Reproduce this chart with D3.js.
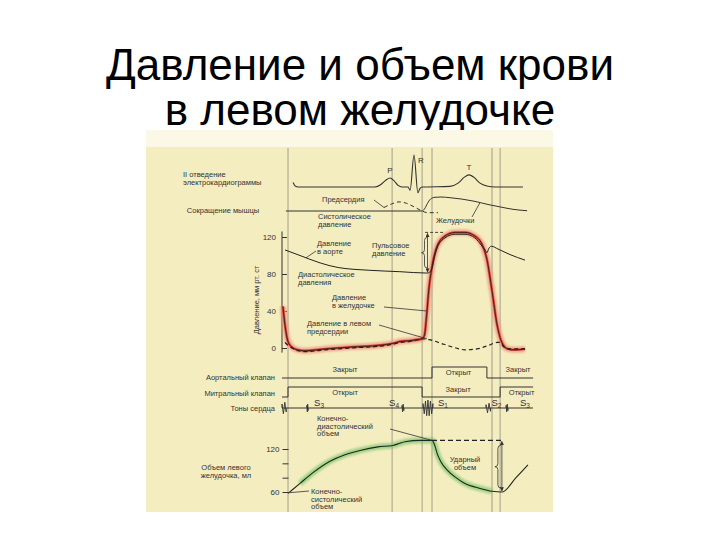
<!DOCTYPE html>
<html>
<head>
<meta charset="utf-8">
<script src="https://cdn.jsdelivr.net/npm/d3@7"></script>
<style>
  body { margin: 0; background: #fff; }
  text { font-family: "Liberation Sans", Arial, sans-serif; fill: #333; }
</style>
</head>
<body>
<script>
// ---- data (time in ms, one cardiac cycle) ----
const titleLines = ["Давление и объем крови", "в левом желудочке"];
const eventTimes = [0, 347, 447, 480, 680, 707];

// ECG lead II, mV-ish units
const ecg = [[17,0.14],[24,0.03],[34,0],[290,0],[310,0.08],[327,0.22],[340,0.28],[353,0.2],[367,0.05],[380,0],
  [400,0],[407,-0.1],[420,1.0],[433,-0.18],[440,-0.04],[447,0],[540,0.02],[567,0.12],[587,0.3],[603,0.38],
  [620,0.3],[640,0.12],[663,0.03],[690,0],[783,0]];

// muscle contraction (relative)
const atrialContraction = [[320,0.25],[345,0.5],[370,0.65],[395,0.55],[420,0.3],[447,0],[465,-0.12],[500,-0.12]];
const ventricularContraction = [[-7,0],[447,0],[455,0.15],[465,0.55],[475,0.85],[490,0.98],[510,1.0],[540,0.95],
  [580,0.85],[620,0.7],[670,0.45],[710,0.28],[750,0.12],[797,0.02]];

// pressures, mm Hg
const pressureTicks = [0, 40, 80, 120];
const lvPressure = [[-17,45],[-12,30],[-6,16],[0,7],[13,1],[33,-2],[60,-3],[107,-1.5],[207,1],[307,3],[350,5],
  [373,7],[407,8],[447,10],[455,14],[462,35],[470,65],[480,88],[497,110],[523,121],[557,125],[590,125],[623,121],
  [647,112],[663,96],[680,62],[697,25],[713,6],[733,-1],[757,-2],[790,-1]];
const aorticPressure = [[-10,106],[40,100],[107,92],[167,87],[273,84],[373,82.5],[463,81],[472,82],[480,86],
  [488,98],[497,108],[523,119],[557,123],[590,123],[623,119],[647,110],[657,106],[663,103],[670,108],[678,110],
  [700,107],[740,101],[790,95]];
const laPressure = [[-10,6],[0,3],[13,0],[33,-3],[60,-4],[107,-2.5],[207,0],[307,2],[350,4],[373,6],[407,7],
  [447,10],[470,9],[520,4],[560,0],[590,-2],[630,-1],[670,3],[697,6],[707,6],[717,2],[733,-1],[790,-1]];

// valves
const aorticValve = [{from:-20,to:480,open:false},{from:480,to:663,open:true},{from:663,to:817,open:false}];
const mitralValve = [{from:-20,to:0,open:false},{from:0,to:447,open:true},{from:447,to:707,open:false},{from:707,to:817,open:true}];
const valveWords = {open: "Открыт", closed: "Закрыт"};

// heart sounds
const heartSounds = [
  {name:"",   sub:"",  t:-20, dur:14, amp:6},
  {name:"S",  sub:"3", t:63,  dur:4,  amp:4},
  {name:"S",  sub:"4", t:380, dur:6,  amp:4},
  {name:"S",  sub:"1", t:450, dur:33, amp:8},
  {name:"S",  sub:"2", t:660, dur:15, amp:5},
  {name:"S",  sub:"3", t:727, dur:6,  amp:4}
];

// volume, ml
const volumeTicks = [60, 80, 100, 120];
const volumeLabels = [60, 120];
const lvVolume = [[0,58],[40,72],[80,86],[140,103],[190,112],[240,118],[300,123],[350,125],[373,128],[390,130],
  [440,132],[480,132],[490,124],[497,114],[510,102],[530,91],[560,80],[585,73],[640,65],[680,61],[713,60],
  [760,80],[800,98]];

// ---- layout ----
const svg = d3.select("body").append("svg").attr("width", 720).attr("height", 540);

const defs = svg.append("defs");
defs.append("filter").attr("id", "soft").append("feGaussianBlur").attr("stdDeviation", 1.1);
defs.append("marker").attr("id", "arr").attr("viewBox", "0 0 6 6").attr("refX", 5.5).attr("refY", 3)
  .attr("markerWidth", 5).attr("markerHeight", 5).attr("orient", "auto-start-reverse")
  .append("path").attr("d", "M0,0 L6,3 L0,6 Z").attr("fill", "#333");

svg.selectAll(".title").data(titleLines).enter().append("text")
  .attr("x", 360).attr("y", (d, i) => 80 + i * 45)
  .attr("text-anchor", "middle").style("font-size", "44px").style("fill", "#000")
  .text(d => d);

// scanned page background
svg.append("rect").attr("x", 146).attr("y", 130).attr("width", 407).attr("height", 382).attr("fill", "#f4edc0");
svg.append("rect").attr("x", 146).attr("y", 130).attr("width", 407).attr("height", 17).attr("fill", "#fbf8e6");

const x = d3.scaleLinear().domain([0, 800]).range([288, 528]);
const yEcg = d3.scaleLinear().domain([0, 1]).range([187, 155]);
const yMus = d3.scaleLinear().domain([0, 1]).range([211, 197]);
const yP = d3.scaleLinear().domain([0, 120]).range([348, 237]);
const yV = d3.scaleLinear().domain([60, 120]).range([492, 449]);

const lineOf = ys => d3.line().x(d => x(d[0])).y(d => ys(d[1])).curve(d3.curveMonotoneX);

// event lines
svg.append("g").selectAll("line").data(eventTimes).enter().append("line")
  .attr("x1", d => x(d)).attr("x2", d => x(d)).attr("y1", 148).attr("y2", 512)
  .attr("stroke", "#8f8c80").attr("stroke-width", 0.8);

// helper for small multi-line notes
function note(lines, px, py, anchor, lh) {
  const t = svg.append("text").attr("x", px).attr("y", py)
    .attr("text-anchor", anchor || "start").style("font-size", "7.5px");
  lines.forEach((s, i) => t.append("tspan").attr("x", px).attr("dy", i ? (lh || 7.5) : 0).text(s));
}
function leader(x1, y1, x2, y2) {
  svg.append("line").attr("x1", x1).attr("y1", y1).attr("x2", x2).attr("y2", y2)
    .attr("stroke", "#333").attr("stroke-width", 0.8);
}
function brace(bx, y0, y1) {
  const w = 3, ym = (y0 + y1) / 2;
  svg.append("path")
    .attr("d", `M${bx + w},${y0} q${-w},0 ${-w},${w} L${bx},${ym - w} q0,${w} ${-w},${w} q${w},0 ${w},${w} L${bx},${y1 - w} q0,${w} ${w},${w}`)
    .attr("fill", "none").attr("stroke", "#333").attr("stroke-width", 0.8);
}

// ---- ECG ----
svg.append("path").datum(ecg).attr("d", lineOf(yEcg)).attr("fill", "none").attr("stroke", "#333").attr("stroke-width", 1.1);
svg.append("text").attr("x", x(340)).attr("y", yEcg(0.28) - 5).attr("text-anchor", "middle").style("font-size", "8px").text("P");
svg.append("text").attr("x", x(420) + 4).attr("y", yEcg(0.75)).style("font-size", "8px").text("R");
svg.append("text").attr("x", x(603)).attr("y", yEcg(0.38) - 5).attr("text-anchor", "middle").style("font-size", "8px").text("T");
note(["II отведение", "электрокардиограммы"], 183, 177);

// ---- muscle contraction ----
svg.append("path").datum(ventricularContraction).attr("d", lineOf(yMus)).attr("fill", "none").attr("stroke", "#333").attr("stroke-width", 1);
svg.append("path").datum(atrialContraction).attr("d", lineOf(yMus)).attr("fill", "none").attr("stroke", "#333")
  .attr("stroke-width", 1).attr("stroke-dasharray", "4,3");
note(["Сокращение мышцы"], 223, 213, "middle");
note(["Предсердия"], 322, 202);
leader(374, 200, x(320), yMus(0.25));
note(["Систолическое", "давление"], 318, 219);
note(["Желудочки"], 436, 223);
leader(472, 217, x(640), yMus(0.6));

// ---- pressure panel ----
svg.append("line").attr("x1", 282).attr("x2", 282).attr("y1", yP(126)).attr("y2", yP(-5)).attr("stroke", "#333").attr("stroke-width", 1);
const pAxis = svg.append("g").attr("transform", "translate(282,0)")
  .call(d3.axisLeft(yP).tickValues(pressureTicks).tickSizeInner(-5).tickSizeOuter(0).tickPadding(6));
pAxis.select(".domain").remove();
pAxis.selectAll("line").attr("stroke", "#333");
pAxis.selectAll("text").style("font-size", "8px").style("font-family", "Liberation Sans, Arial, sans-serif").attr("fill", "#333");
svg.append("text").attr("transform", "translate(259,300) rotate(-90)").attr("text-anchor", "middle")
  .style("font-size", "7.5px").text("Давление, мм рт. ст");

// left ventricular pressure, red band
const lvPath = lineOf(yP)(lvPressure);
svg.append("path").attr("d", lvPath).attr("fill", "none").attr("stroke", "#ee9580").attr("stroke-width", 6)
  .attr("stroke-opacity", 0.8).attr("filter", "url(#soft)");
svg.append("path").attr("d", lvPath).attr("fill", "none").attr("stroke", "#d8473a").attr("stroke-width", 2.4);
svg.append("path").attr("d", lvPath).attr("fill", "none").attr("stroke", "#3a1c14").attr("stroke-width", 0.9);

svg.append("path").datum(laPressure).attr("d", lineOf(yP)).attr("fill", "none").attr("stroke", "#222")
  .attr("stroke-width", 1.2).attr("stroke-dasharray", "4,3");
svg.append("path").datum(aorticPressure).attr("d", lineOf(yP)).attr("fill", "none").attr("stroke", "#222").attr("stroke-width", 1);

// pulse pressure
const pMax = d3.max(lvPressure, d => d[1]);
const pDia = d3.min(aorticPressure.filter(d => d[0] < 480), d => d[1]);
svg.append("line").attr("x1", x(457)).attr("x2", x(520)).attr("y1", yP(pMax)).attr("y2", yP(pMax))
  .attr("stroke", "#333").attr("stroke-width", 0.9).attr("stroke-dasharray", "3,2");
svg.append("line").attr("x1", x(465)).attr("x2", x(465)).attr("y1", yP(pMax) + 1).attr("y2", yP(pDia) - 1)
  .attr("stroke", "#333").attr("stroke-width", 0.8).attr("marker-start", "url(#arr)").attr("marker-end", "url(#arr)");
brace(x(455), yP(pMax) + 5, yP(pDia) - 5);

note(["Давление", "в аорте"], 317, 246);
leader(316, 251, x(60), yP(97.5));
note(["Пульсовое", "давление"], 372, 248);
note(["Диастолическое", "давления"], 298, 277, "start", 8);
note(["Давление", "в желудочке"], 332, 300);
leader(384, 307, x(463), yP(40));
note(["Давление в левом", "предсердии"], 307, 326);
leader(379, 325, x(463), yP(10));

// ---- valves ----
function valveRow(data, yClosed, yOpen, labelClosedDy, labelOpenDy, labelDx) {
  const pts = [];
  data.forEach(s => {
    const yy = s.open ? yOpen : yClosed;
    pts.push([x(s.from), yy], [x(s.to), yy]);
  });
  svg.append("path").attr("d", d3.line()(pts)).attr("fill", "none").attr("stroke", "#333").attr("stroke-width", 1);
  data.forEach((s, i) => {
    if (labelDx[i] === null) return;
    const cx = x((Math.max(s.from, 0) + s.to) / 2) + labelDx[i];
    svg.append("text").attr("x", cx).attr("y", (s.open ? yOpen + labelOpenDy : yClosed + labelClosedDy))
      .attr("text-anchor", "middle").style("font-size", "7.5px").text(s.open ? valveWords.open : valveWords.closed);
  });
}
valveRow(aorticValve, 378, 367, -6, 8, [-15, -1, 8]);
valveRow(mitralValve, 397, 387, -5, 8, [null, -10, -3, 5]);
note(["Аортальный клапан"], 275, 380, "end");
note(["Митральный клапан"], 275, 396, "end");
note(["Тоны сердца"], 275, 411, "end");

// ---- heart sounds ----
const ySnd = 408;
svg.append("line").attr("x1", 282).attr("x2", 533).attr("y1", ySnd).attr("y2", ySnd).attr("stroke", "#333").attr("stroke-width", 1);
const soundLabelDx = [null, 6, -3, 5, 1, 12];
heartSounds.forEach((s, i) => {
  const x0 = x(s.t), x1 = x(s.t + s.dur);
  const n = Math.max(3, Math.round((x1 - x0) / 1.3));
  const pts = d3.range(n + 1).map(k => {
    const fx = x0 + (x1 - x0) * k / n;
    const env = Math.sin(Math.PI * (k + 0.5) / (n + 1));
    return [fx, ySnd + (k % 2 ? 1 : -1) * s.amp * (0.45 + 0.55 * env)];
  });
  svg.append("path").attr("d", d3.line()([[x0, ySnd], ...pts, [x1, ySnd]]))
    .attr("fill", "none").attr("stroke", "#333").attr("stroke-width", 0.9);
  if (s.name) {
    const dx = soundLabelDx[i];
    const lt = svg.append("text").attr("x", dx < 0 ? x0 + dx : x1 + dx).attr("y", ySnd - 2)
      .attr("text-anchor", dx < 0 ? "end" : "start").style("font-size", "9.5px");
    lt.append("tspan").text(s.name);
    lt.append("tspan").attr("dy", 2).style("font-size", "6.5px").text(s.sub);
  }
});

// ---- volume panel ----
const vAxis = svg.append("g").attr("transform", "translate(288.5,0)")
  .call(d3.axisLeft(yV).tickValues(volumeTicks).tickSize(6).tickPadding(3)
    .tickFormat(d => volumeLabels.includes(d) ? d : ""));
vAxis.select(".domain").remove();
vAxis.selectAll("line").attr("stroke", "#333");
vAxis.selectAll("text").style("font-size", "8px").style("font-family", "Liberation Sans, Arial, sans-serif").attr("fill", "#333");
note(["Объем левого", "желудочка, мл"], 226, 470, "middle", 8);

const vGlow = lvVolume.filter(d => d[0] >= 20 && d[0] <= 705);
svg.append("path").datum(vGlow).attr("d", lineOf(yV)).attr("fill", "none").attr("stroke", "#6cbf62")
  .attr("stroke-width", 6).attr("stroke-opacity", 0.6).attr("filter", "url(#soft)");
svg.append("path").datum(lvVolume).attr("d", lineOf(yV)).attr("fill", "none").attr("stroke", "#1f2a1c").attr("stroke-width", 1.1);

// stroke volume: end-diastolic max vs end-systolic min during ejection
const vMax = d3.max(lvVolume, d => d[1]);
const ejection = lvVolume.filter(d => d[0] >= 480);
const vMin = d3.min(ejection, d => d[1]);
const tMin = ejection.find(d => d[1] === vMin)[0];
svg.append("line").attr("x1", x(480)).attr("x2", x(tMin)).attr("y1", yV(vMax)).attr("y2", yV(vMax))
  .attr("stroke", "#222").attr("stroke-width", 1.2).attr("stroke-dasharray", "5,3");
svg.append("line").attr("x1", x(tMin)).attr("x2", x(tMin)).attr("y1", yV(vMax) + 1).attr("y2", yV(vMin) - 1)
  .attr("stroke", "#333").attr("stroke-width", 0.8).attr("marker-start", "url(#arr)").attr("marker-end", "url(#arr)");
brace(x(tMin) - 4, yV(vMax) + 5, yV(vMin) - 4);
note(["Ударный", "объем"], 465, 462, "middle", 8);

note(["Конечно-", "диастолический", "объем"], 317, 421);
leader(390, 429, x(480), yV(vMax));
note(["Конечно-", "систолический", "объем"], 311, 494);
leader(309, 491, x(4), yV(59));
</script>
</body>
</html>
